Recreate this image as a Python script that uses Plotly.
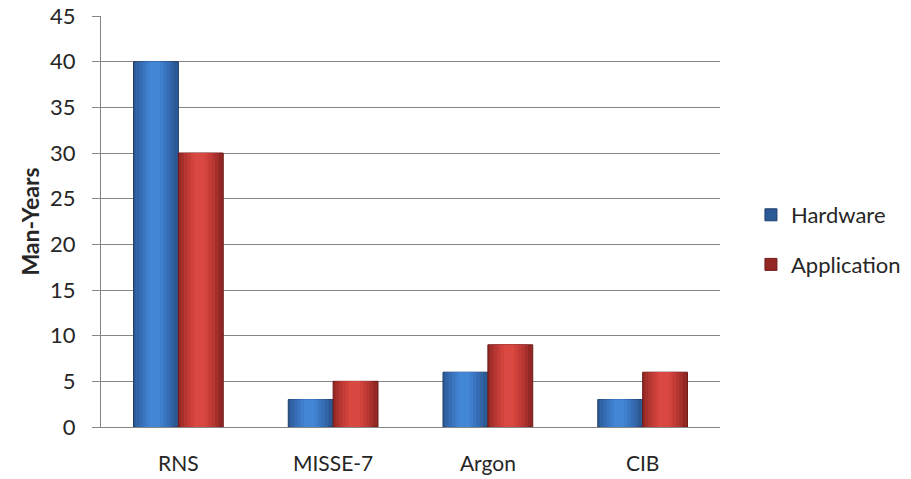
import plotly.graph_objects as go

# Effort per project, in man-years
projects = ["RNS", "MISSE-7", "Argon", "CIB"]
hardware = [40, 3, 6, 3]
application = [30, 5, 9, 6]

series = [
    # name, values, offset of bar, shades from edge to highlight
    ("Hardware", hardware, -0.29,
     ["#2b5a96", "#3163a5", "#356cb3", "#3a75c0", "#3f7ecc", "#4486d6"]),
    ("Application", application, 0.0,
     ["#932724", "#a52f2b", "#b63632", "#c43c37", "#d0423c", "#da4842"]),
]
BAR_W = 0.29

fig = go.Figure()
for name, vals, off, shades in series:
    # base bar (legend entry) plus narrower, lighter layers for a cylinder-like shading
    for i, col in enumerate(shades):
        inset = i * 0.022
        fig.add_trace(go.Bar(
            x=projects, y=vals, name=name,
            width=BAR_W - 2 * inset if i else BAR_W,
            offset=off + inset - (0.008 if i else 0),
            marker=dict(color=col,
                        line=dict(color="#1f3f6a" if name == "Hardware" else "#6e1c1a",
                                  width=1 if i == 0 else 0)),
            legendgroup=name, showlegend=(i == 0),
            hoverinfo="skip" if i else None,
        ))

fig.update_layout(
    width=911, height=479,
    barmode="overlay",
    plot_bgcolor="white", paper_bgcolor="white",
    margin=dict(l=101, r=191, t=16, b=52, autoexpand=False),
    font=dict(family="Lato, 'Open Sans', sans-serif", size=21, color="#262626"),
    showlegend=True,
    legend=dict(x=1.05, y=0.455, xanchor="left", yanchor="middle",
                traceorder="grouped", tracegroupgap=18,
                font=dict(size=22, color="#262626"), itemwidth=30),
    xaxis=dict(showline=True, linecolor="#868686", linewidth=1, ticks="",
               ticklabelstandoff=18, showgrid=False, tickfont=dict(size=21),
               automargin=False),
    yaxis=dict(range=[0, 45], dtick=5, showline=True, linecolor="#868686",
               gridcolor="#868686", gridwidth=1, ticks="outside", ticklen=8,
               tickcolor="#868686", ticklabelstandoff=12, zeroline=False,
               tickfont=dict(size=22), automargin=False,
               title=dict(text="<b>Man-Years</b>", font=dict(size=23), standoff=4)),
)

fig.write_html("out.html")
